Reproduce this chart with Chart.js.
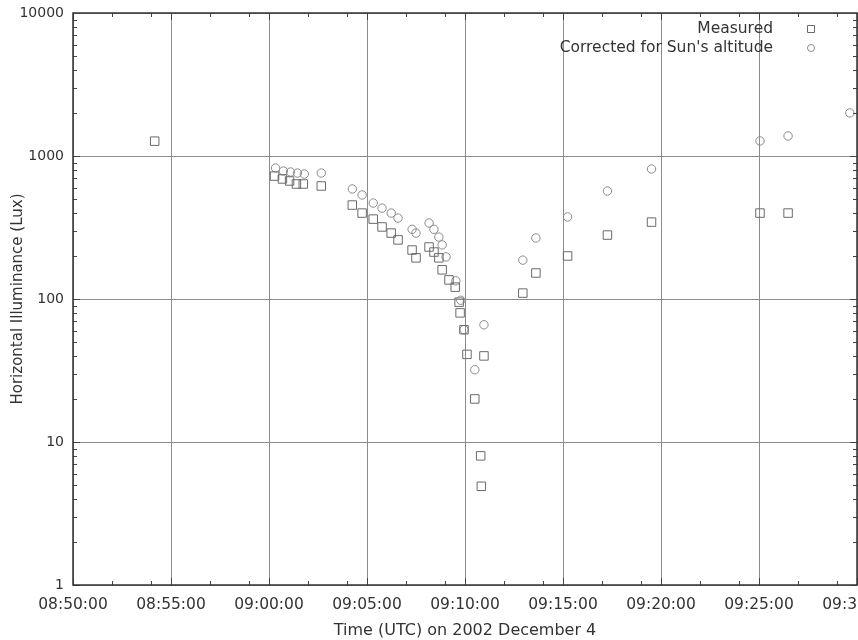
<!DOCTYPE html>
<html>
<head>
<meta charset="utf-8">
<script src="https://cdn.jsdelivr.net/npm/chart.js@4.4.1/dist/chart.umd.min.js"></script>
<style>
  html, body { margin: 0; padding: 0; background: #fff; overflow: hidden; }
  #wrap { width: 864px; height: 640px; position: relative; }
</style>
</head>
<body>
<div id="wrap"><canvas id="chart1"></canvas></div>
<script>
// time of reading (UTC) and lux values
const measTimes = ["08:54:10","09:00:17","09:00:41","09:01:03","09:01:24","09:01:45","09:02:40",
  "09:04:15","09:04:45","09:05:19","09:05:46","09:06:14","09:06:35","09:07:18","09:07:30",
  "09:08:10","09:08:25","09:08:40","09:08:50","09:09:11","09:09:30","09:09:42","09:09:45",
  "09:09:57","09:10:06","09:10:30","09:10:48","09:10:50","09:10:58","09:12:57","09:13:37",
  "09:15:14","09:17:16","09:19:31","09:25:03","09:26:29"];
const measLux = [1270, 724, 691, 669, 637, 637, 617,
  454, 399, 362, 319, 289, 259, 220, 194,
  231, 213, 194, 160, 136, 121, 95, 80,
  61, 41, 20, 8, 4.9, 40, 110, 152,
  200, 280, 345, 399, 399];

const corrTimes = ["09:00:20","09:00:44","09:01:06","09:01:27","09:01:48","09:02:40",
  "09:04:15","09:04:45","09:05:19","09:05:46","09:06:14","09:06:35","09:07:18","09:07:30",
  "09:08:10","09:08:25","09:08:40","09:08:50","09:09:02","09:09:32","09:09:47","09:09:57",
  "09:10:30","09:10:58","09:12:57","09:13:37","09:15:14","09:17:16","09:19:31","09:25:03",
  "09:26:29","09:29:38"];
const corrLux = [824, 785, 773, 760, 748, 760,
  588, 534, 469, 432, 399, 368, 307, 289,
  340, 307, 271, 239, 197, 134, 98, 61,
  32, 66, 187, 267, 375, 569, 811, 1274,
  1380, 2000];

const xTickLabels = ["08:50:00","08:55:00","09:00:00","09:05:00","09:10:00","09:15:00","09:20:00","09:25:00","09:30:00"];
const yTickValues = [1, 10, 100, 1000, 10000];

const seriesNames = ["Measured", "Corrected for Sun's altitude"];

function toSec(t) {
  const p = t.split(":").map(Number);
  return p[0] * 3600 + p[1] * 60 + p[2] - (8 * 3600 + 50 * 60);
}
function fmt(s) {
  s = s + 8 * 3600 + 50 * 60;
  const h = Math.floor(s / 3600), m = Math.floor((s % 3600) / 60), ss = s % 60;
  return [h, m, ss].map(v => String(v).padStart(2, "0")).join(":");
}

const FONT = "'DejaVu Sans', sans-serif";
const TXT = "#333";

// frame, inward ticks (both sides) and the legend inside the plot
const framePlugin = {
  id: "frame",
  afterDraw(chart) {
    const { ctx, chartArea: a, scales } = chart;
    const x = scales.x, y = scales.y;
    ctx.save();
    ctx.strokeStyle = "#444";
    ctx.lineWidth = 1;
    // y ticks: majors + log minors
    for (let d = 0; d < 4; d++) {
      for (let k = 1; k <= 9; k++) {
        const v = k * Math.pow(10, d);
        const py = Math.round(y.getPixelForValue(v)) + 0.5;
        const len = k === 1 ? 7 : 4;
        ctx.beginPath();
        ctx.moveTo(a.left, py); ctx.lineTo(a.left + len, py);
        ctx.moveTo(a.right, py); ctx.lineTo(a.right - len, py);
        ctx.stroke();
      }
    }
    // x ticks
    for (let i = 0; i < xTickLabels.length; i++) {
      const base = toSec(xTickLabels[i]);
      [0, 120, 240].forEach(off => {
        const v = base + off;
        if (v > x.max) return;
        const px = Math.round(x.getPixelForValue(v)) + 0.5;
        const len = off === 0 ? 7 : 4;
        ctx.beginPath();
        ctx.moveTo(px, a.bottom); ctx.lineTo(px, a.bottom - len);
        ctx.moveTo(px, a.top); ctx.lineTo(px, a.top + len);
        ctx.stroke();
      });
    }
    // frame
    ctx.lineWidth = 1.5;
    ctx.strokeStyle = "#333";
    ctx.strokeRect(a.left, a.top, a.right - a.left, a.bottom - a.top);

    // legend
    ctx.font = "15.5px " + FONT;
    ctx.fillStyle = TXT;
    ctx.textAlign = "right";
    ctx.textBaseline = "middle";
    const rows = [29, 48];
    chart.data.datasets.forEach((ds, i) => {
      ctx.fillText(ds.label, 773, rows[i]);
      ctx.strokeStyle = ds.borderColor;
      ctx.lineWidth = 1;
      ctx.beginPath();
      if (ds.pointStyle === "rect") {
        ctx.rect(807.5, rows[i] - 3.5, 7, 7);
      } else {
        ctx.arc(811, rows[i], 3.5, 0, Math.PI * 2);
      }
      ctx.stroke();
    });
    ctx.restore();
  }
};

function chartit() {
  const ctx = document.getElementById("chart1").getContext("2d");
  new Chart(ctx, {
    type: "scatter",
    data: {
      datasets: [
        {
          label: seriesNames[0],
          data: measTimes.map((t, i) => ({ x: toSec(t), y: measLux[i] })),
          pointStyle: "rect",
          pointRadius: 6,
          borderColor: "#6a6a6a",
          backgroundColor: "rgba(0,0,0,0)",
          borderWidth: 1,
        },
        {
          label: seriesNames[1],
          data: corrTimes.map((t, i) => ({ x: toSec(t), y: corrLux[i] })),
          pointStyle: "circle",
          pointRadius: 4.2,
          borderColor: "#8a8a8a",
          backgroundColor: "rgba(0,0,0,0)",
          borderWidth: 1,
        }
      ],
    },
    options: {
      responsive: true,
      maintainAspectRatio: false,
      animation: false,
      layout: { padding: { left: 0, right: 0, top: 13, bottom: 0 } },
      plugins: {
        legend: { display: false },
        tooltip: { enabled: false },
      },
      scales: {
        x: {
          type: "linear",
          min: 0,
          max: 2400,
          afterBuildTicks: (s) => { s.ticks = xTickLabels.map(t => ({ value: toSec(t) })); },
          afterFit: (s) => { s.height = 55; s.paddingLeft = 0; s.paddingRight = 0; },
          grid: { color: "#8c8c8c", lineWidth: 1, drawTicks: false },
          border: { display: false },
          ticks: {
            padding: 11,
            maxRotation: 0,
            autoSkip: false,
            color: TXT,
            font: { family: FONT, size: 15.5 },
            callback: (v) => fmt(v),
          },
          title: {
            display: true,
            text: "Time (UTC) on 2002 December 4",
            color: TXT,
            font: { family: FONT, size: 16 },
            padding: { top: 3, bottom: 0 },
          },
        },
        y: {
          type: "logarithmic",
          min: 1,
          max: 10000,
          afterBuildTicks: (s) => { s.ticks = yTickValues.map(v => ({ value: v })); },
          afterFit: (s) => { s.width = 73; s.paddingTop = 0; s.paddingBottom = 0; },
          grid: { color: "#8c8c8c", lineWidth: 1, drawTicks: false },
          border: { display: false },
          ticks: {
            padding: 9,
            color: TXT,
            font: { family: FONT, size: 14 },
            callback: (v) => String(v),
          },
          title: {
            display: true,
            text: "Horizontal Illuminance (Lux)",
            color: TXT,
            font: { family: FONT, size: 15 },
            padding: { top: 9, bottom: 0 },
          },
        },
      },
    },
    plugins: [framePlugin],
  });
}
chartit();
</script>
</body>
</html>
